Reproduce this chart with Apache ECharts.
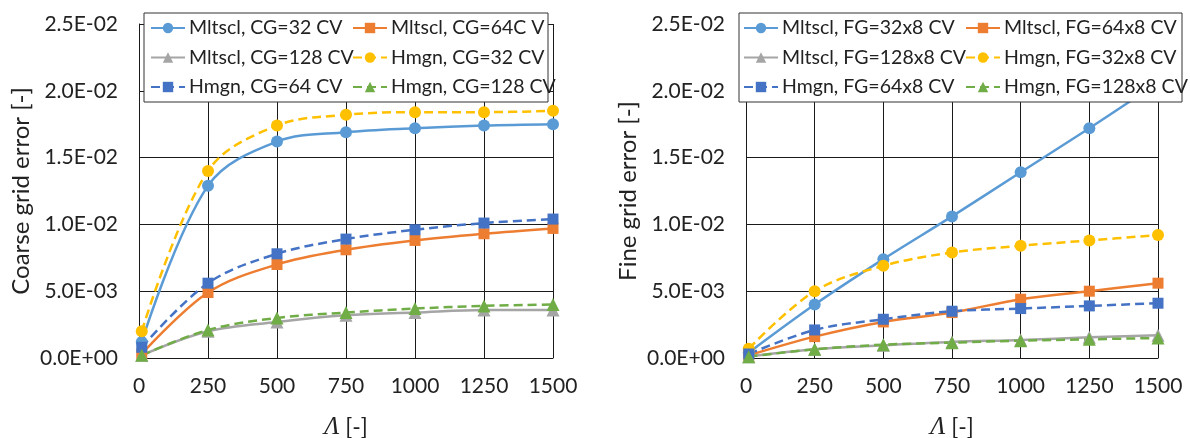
<!DOCTYPE html>
<html>
<head>
<meta charset="utf-8">
<script src="https://cdn.jsdelivr.net/npm/echarts@6/dist/echarts.min.js"></script>
<style>
  html, body { margin: 0; padding: 0; background: #fff; }
  #chart { width: 1190px; height: 438px; }
</style>
</head>
<body>
<div id="chart"></div>
<script>
// lambda values (x axis)
var lambdas = [10, 250, 500, 750, 1000, 1250, 1500];

// coarse grid error (left panel)
var mltsclCG32 = [0.0012, 0.0129, 0.0162, 0.0169, 0.0172, 0.0174, 0.0175];
var mltsclCG64 = [0.0003, 0.0049, 0.0070, 0.0081, 0.0088, 0.0093, 0.0097];
var mltsclCG128 = [0.0002, 0.0020, 0.0027, 0.0032, 0.0034, 0.0036, 0.0036];
var hmgnCG32 = [0.0020, 0.0140, 0.0174, 0.0182, 0.0184, 0.0184, 0.0185];
var hmgnCG64 = [0.0008, 0.0056, 0.0078, 0.0089, 0.0096, 0.0101, 0.0104];
var hmgnCG128 = [0.0002, 0.0021, 0.0030, 0.0034, 0.0037, 0.0039, 0.0040];

// fine grid error (right panel)
var mltsclFG32 = [0.0004, 0.0040, 0.0074, 0.0106, 0.0139, 0.0172, 0.0206];
var mltsclFG64 = [0.0002, 0.0016, 0.0027, 0.0034, 0.0044, 0.0050, 0.0056];
var mltsclFG128 = [0.0001, 0.00065, 0.00095, 0.0012, 0.00135, 0.00155, 0.0017];
var hmgnFG32 = [0.0007, 0.0050, 0.0069, 0.0079, 0.0084, 0.0088, 0.0092];
var hmgnFG64 = [0.0003, 0.0021, 0.0029, 0.0035, 0.0037, 0.0039, 0.0041];
var hmgnFG128 = [0.0001, 0.00065, 0.0010, 0.00115, 0.0013, 0.0014, 0.0015];

var FONT = 'Lato';
var TXT = '#222';
var GRIDC = '#1a1a1a';

function sci(v) {
    // 2.5E-02 style labels like excel
    if (v === 0) return '0.0E+00';
    var e = Math.floor(Math.log10(Math.abs(v)) + 1e-9);
    var m = v / Math.pow(10, e);
    var es = (e < 0 ? '-' : '+') + (Math.abs(e) < 10 ? '0' : '') + Math.abs(e);
    return m.toFixed(1) + 'E' + es;
}

function pairs(ys) {
    return ys.map(function (y, i) { return [lambdas[i], y]; });
}

function mkSeries(name, ys, color, symbol, dashed, idx) {
    return {
        name: name,
        type: 'line',
        xAxisIndex: idx,
        yAxisIndex: idx,
        data: pairs(ys),
        smooth: 0.35,
        symbol: symbol,
        symbolSize: symbol === 'triangle' ? 13 : (symbol === 'rect' ? 11 : 12),
        itemStyle: { color: color },
        lineStyle: { color: color, width: 2.5, type: dashed ? [9, 5] : 'solid' },
        emphasis: { disabled: true },
        animation: false
    };
}

function xAx(idx) {
    return {
        type: 'value', gridIndex: idx, min: 0, max: 1500, interval: 250,
        axisLine: { show: true, lineStyle: { color: GRIDC, width: 1 } },
        axisTick: { show: false },
        splitLine: { show: true, lineStyle: { color: GRIDC, width: 1 } },
        axisLabel: { fontFamily: FONT, fontSize: 21, color: TXT, margin: 18,
            formatter: function (v) { return String(v); } },
        name: '{l|Λ} [-]',
        nameLocation: 'middle',
        nameGap: 57,
        nameTextStyle: {
            fontFamily: FONT, fontSize: 23, color: TXT,
            rich: { l: { fontFamily: 'Liberation Serif', fontStyle: 'italic', fontSize: 25, color: TXT } }
        }
    };
}

function yAx(idx, title) {
    return {
        type: 'value', gridIndex: idx, min: 0, max: 0.025, interval: 0.005,
        axisLine: { show: true, lineStyle: { color: GRIDC, width: 1 } },
        axisTick: { show: false },
        splitLine: { show: true, lineStyle: { color: GRIDC, width: 1 } },
        axisLabel: { fontFamily: FONT, fontSize: 21, color: TXT, margin: 21, formatter: sci },
        name: title,
        nameLocation: 'middle',
        nameGap: 106,
        nameTextStyle: { fontFamily: FONT, fontSize: 24, color: TXT }
    };
}

function leg(left, names) {
    return {
        orient: 'vertical', left: left, top: 18, padding: 0,
        zlevel: 1, z: 4,
        itemWidth: 34, itemHeight: 13, itemGap: 9.5,
        data: names,
        selectedMode: false,
        textStyle: { fontFamily: FONT, fontSize: 19.5, color: TXT, lineHeight: 20, padding: [0, 0, 0, -1] }
    };
}

var chart = echarts.init(document.getElementById('chart'));
chart.setOption({
    backgroundColor: '#fff',
    animation: false,
    grid: [
        { left: 139, right: 637, top: 24, bottom: 80, outerBoundsMode: 'none', containLabel: false },
        { left: 746, right: 32, top: 24, bottom: 80, outerBoundsMode: 'none', containLabel: false }
    ],
    xAxis: [xAx(0), xAx(1)],
    yAxis: [yAx(0, 'Coarse grid error [-]'), yAx(1, 'Fine grid error [-]')],
    graphic: {
        zlevel: 1,
        z: 3,
        elements: [
            { type: 'rect', zlevel: 1, z: 3, shape: { x: 144, y: 13, width: 404, height: 89 },
              style: { fill: '#fff', stroke: '#333', lineWidth: 1 } },
            { type: 'rect', zlevel: 1, z: 3, shape: { x: 739, y: 13, width: 443, height: 89 },
              style: { fill: '#fff', stroke: '#333', lineWidth: 1 } }
        ]
    },
    legend: [
        leg(150, ['Mltscl, CG=32 CV', 'Mltscl, CG=128 CV', 'Hmgn, CG=64 CV']),
        leg(352, ['Mltscl, CG=64C V', 'Hmgn, CG=32 CV', 'Hmgn, CG=128 CV']),
        leg(743, ['Mltscl, FG=32x8 CV', 'Mltscl, FG=128x8 CV', 'Hmgn, FG=64x8 CV']),
        leg(965, ['Mltscl, FG=64x8 CV', 'Hmgn, FG=32x8 CV', 'Hmgn, FG=128x8 CV'])
    ],
    series: [
        mkSeries('Mltscl, CG=32 CV', mltsclCG32, '#5B9BD5', 'circle', false, 0),
        mkSeries('Mltscl, CG=64C V', mltsclCG64, '#ED7D31', 'rect', false, 0),
        mkSeries('Mltscl, CG=128 CV', mltsclCG128, '#A5A5A5', 'triangle', false, 0),
        mkSeries('Hmgn, CG=32 CV', hmgnCG32, '#FFC000', 'circle', true, 0),
        mkSeries('Hmgn, CG=64 CV', hmgnCG64, '#4472C4', 'rect', true, 0),
        mkSeries('Hmgn, CG=128 CV', hmgnCG128, '#70AD47', 'triangle', true, 0),
        mkSeries('Mltscl, FG=32x8 CV', mltsclFG32, '#5B9BD5', 'circle', false, 1),
        mkSeries('Mltscl, FG=64x8 CV', mltsclFG64, '#ED7D31', 'rect', false, 1),
        mkSeries('Mltscl, FG=128x8 CV', mltsclFG128, '#A5A5A5', 'triangle', false, 1),
        mkSeries('Hmgn, FG=32x8 CV', hmgnFG32, '#FFC000', 'circle', true, 1),
        mkSeries('Hmgn, FG=64x8 CV', hmgnFG64, '#4472C4', 'rect', true, 1),
        mkSeries('Hmgn, FG=128x8 CV', hmgnFG128, '#70AD47', 'triangle', true, 1)
    ]
});
</script>
</body>
</html>
